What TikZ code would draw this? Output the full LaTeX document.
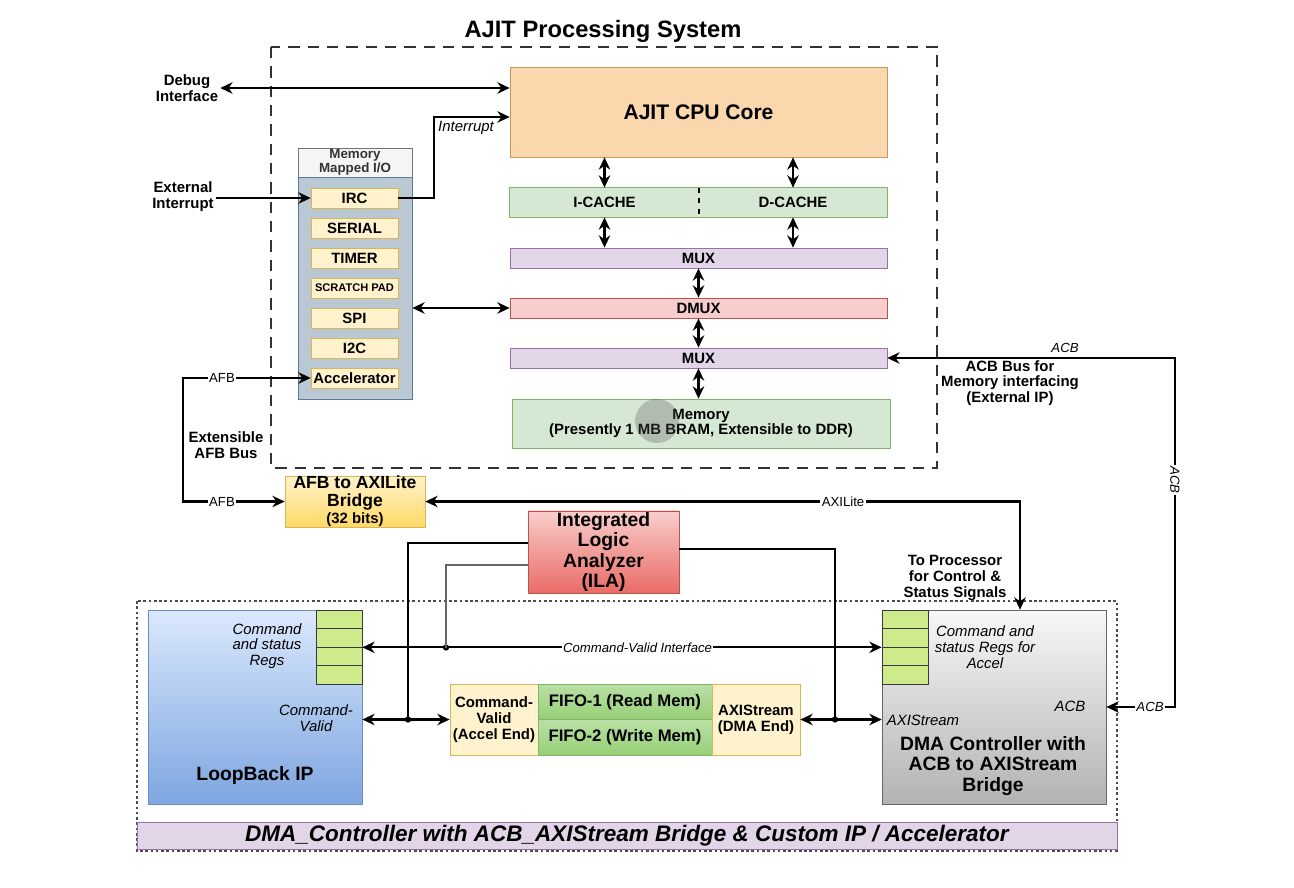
\documentclass[tikz,border=0pt]{standalone}
\usepackage{fontspec}
\setmainfont{Liberation Sans}
\usetikzlibrary{arrows.meta,positioning,shapes}
\definecolor{cpufill}{HTML}{FAD7AC}
\definecolor{cpuline}{HTML}{C8955A}
\definecolor{cachefill}{HTML}{D5E8D4}
\definecolor{cacheline}{HTML}{82B366}
\definecolor{muxfill}{HTML}{E1D5E7}
\definecolor{muxline}{HTML}{9673A6}
\definecolor{dmuxfill}{HTML}{F8CECC}
\definecolor{dmuxline}{HTML}{B85450}
\definecolor{iofill}{HTML}{FFF2CC}
\definecolor{ioline}{HTML}{D6B656}
\definecolor{mmiofill}{HTML}{BAC8D3}
\definecolor{mmioline}{HTML}{5B7A99}
\definecolor{regfill}{HTML}{CDEB8B}
\definecolor{regline}{HTML}{36393D}
\definecolor{fifotop}{HTML}{B9E0A5}
\definecolor{fifobot}{HTML}{97D077}
\definecolor{bridgebot}{HTML}{FFD966}
\definecolor{ilabot}{HTML}{EA6B66}
\definecolor{lbtop}{HTML}{DAE8FC}
\definecolor{lbbot}{HTML}{7EA6E0}
\definecolor{lbline}{HTML}{6C8EBF}
\newcommand{\fnttitle}{\fontsize{13.5}{15}\selectfont}
\newcommand{\fntcpu}{\fontsize{12}{14}\selectfont}
\newcommand{\fntbig}{\fontsize{11}{11.5}\selectfont}
\newcommand{\fntmid}{\fontsize{9.5}{10.5}\selectfont}
\newcommand{\fntsmall}{\fontsize{8.5}{9}\selectfont}
\newcommand{\fntbus}{\fontsize{7.5}{8}\selectfont}
\newcommand{\fnttiny}{\fontsize{6.3}{7}\selectfont}
\tikzset{block/.style={draw, rectangle, align=center, inner sep=1pt, font=\fntsmall\bfseries}}
\tikzset{cpu block/.style={block, fill=cpufill, draw=cpuline, minimum width=7.54cm, minimum height=1.8cm, font=\fntcpu\bfseries}}
\tikzset{cache half/.style={block, draw=none, fill=cachefill, minimum height=0.58cm}}
\tikzset{mux block/.style={block, fill=muxfill, draw=muxline, minimum width=7.54cm, minimum height=0.4cm}}
\tikzset{dmux block/.style={mux block, fill=dmuxfill, draw=dmuxline}}
\tikzset{mem block/.style={block, fill=cachefill, draw=cacheline, minimum width=7.56cm, minimum height=0.98cm}}
\tikzset{io item/.style={block, fill=iofill, draw=ioline, minimum width=1.74cm, minimum height=0.4cm}}
\tikzset{reg cell/.style={draw=regline, fill=regfill, minimum width=0.92cm, minimum height=0.37cm, inner sep=0pt}}
\tikzset{big block/.style={block, minimum width=4.48cm, minimum height=3.88cm}}
\tikzset{fifo block/.style={block, top color=fifotop, bottom color=fifobot, draw=cacheline, minimum width=3.48cm, minimum height=0.71cm, font=\fntmid\bfseries}}
\tikzset{end block/.style={block, fill=iofill, draw=ioline, minimum width=1.76cm, minimum height=1.42cm}}
\tikzset{note/.style={align=center, inner sep=1pt, font=\fntsmall\bfseries}}
\tikzset{tag/.style={align=center, inner sep=1pt, font=\fntsmall\itshape}}
\tikzset{bus label/.style={fill=white, inner sep=0.8pt, font=\fntbus}}
\tikzset{bus/.style={line width=1.3pt}}
\tikzset{arr/.style={bus, -{Stealth[length=7pt, width=6.5pt]}}}
\tikzset{dbl/.style={bus, {Stealth[length=7pt, width=6.5pt]}-{Stealth[length=7pt, width=6.5pt]}}}
\tikzset{probe/.style={line width=0.6pt}}
\tikzset{tap/.style={circle, fill, inner sep=0pt, minimum size=3.6pt}}
\tikzset{sys frame/.style={draw=black!80, line width=0.7pt, dash pattern=on 6.5pt off 4.5pt}}
\tikzset{dma frame/.style={draw=black!70, line width=0.6pt, dash pattern=on 1.5pt off 1.5pt}}

\begin{document}
\begin{tikzpicture}[x=0.02cm, y=-0.02cm]
  \useasboundingbox [fill=white] (0,0) rectangle (1294,888);

  % processing system
  \draw [sys frame] (271,47) rectangle (937,468);
  \node [note, font=\fnttitle\bfseries] (title) at (603,31) {AJIT Processing System};

  \node [cpu block]               (cpu)    at (698.5,112)   {AJIT CPU Core};
  \node [cache half, minimum width=3.78cm] (icache) at (604.5,202.5) {I-CACHE};
  \node [cache half, minimum width=3.76cm] (dcache) at (793,202.5)   {D-CACHE};
  \draw [cacheline] (icache.north west) rectangle (dcache.south east);
  \draw [black, line width=1pt, dashed] (icache.north east) -- (icache.south east);
  \node [mux block]               (mux1)   at (698.5,258)   {MUX};
  \node [dmux block]              (dmux)   at (698.5,308)   {DMUX};
  \node [mux block]               (mux2)   at (698.5,358)   {MUX};
  \node [mem block]               (memory) at (701,423.5)   {Memory\\(Presently 1 MB BRAM, Extensible to DDR)};
  \fill [gray!70!black, opacity=0.3] (657,421) circle (0.44cm);

  \node [block, fill=black!4, draw=black!55, minimum width=2.28cm, minimum height=0.58cm,
         inner sep=0pt, text=black!80, font=\fontsize{7.6}{7.8}\selectfont\bfseries] (mmiohead) at (355,162.5) {Memory\\Mapped I/O};
  \node [block, fill=mmiofill, draw=mmioline, minimum width=2.28cm, minimum height=4.44cm] (mmio) at (355,288) {};
  \foreach \nm/\txt/\yy in {irc/IRC/198, serial/SERIAL/228, timer/TIMER/258,
      scratch/{\fnttiny SCRATCH PAD}/288, spi/SPI/318, iic/I2C/348, accel/Accelerator/378}
    \node [io item] (\nm) at (354.5,\yy) {\txt};

  \draw [dbl] (cpu.south -| icache) -- (icache.north);
  \draw [dbl] (cpu.south -| dcache) -- (dcache.north);
  \draw [dbl] (icache.south) -- (mux1.north -| icache);
  \draw [dbl] (dcache.south) -- (mux1.north -| dcache);
  \draw [dbl] (mux1.south) -- (dmux.north);
  \draw [dbl] (dmux.south) -- (mux2.north);
  \draw [dbl] (mux2.south) -- (memory.north -| mux2);
  \draw [dbl] (dmux.west -| mmio.east) -- (dmux.west);

  % external side
  \node [note] (debug)  at (187,88)  {Debug\\Interface};
  \node [note] (extint) at (183,197) {External\\Interrupt};
  \node [tag]  (intlbl) at (466,128) {Interrupt};
  \node [note] (afbbus) at (226,445) {Extensible\\AFB Bus};
  \node [note] (acbbus) at (1010,383) {ACB Bus for\\Memory interfacing\\(External IP)};
  \node [note] (tocpu)  at (955,578) {To Processor\\for Control \&\\Status Signals};

  \draw [dbl] (debug.east) -- (debug -| cpu.west);
  \draw [arr] (irc.west -| extint.east) -- (irc.west);
  \draw [arr] (irc.east) -- ++(36,0) |- ([yshift=-0.1cm]cpu.west);

  \node [block, top color=iofill, bottom color=bridgebot, draw=ioline,
         minimum width=2.8cm, minimum height=0.98cm, inner sep=0pt,
         font=\fontsize{10}{10}\selectfont\bfseries] (bridge) at (355,501.5)
         {AFB to AXILite\\Bridge\\{\fontsize{8.5}{9}\selectfont (32 bits)}};
  \draw [dbl] (accel.west) -- ++(-128,0) |- (bridge.west);
  \node [bus label] (afb1) at (222,378)   {AFB};
  \node [bus label] (afb2) at (222,501.5) {AFB};

  \node [block, top color=dmuxfill, bottom color=ilabot, draw=dmuxline,
         minimum width=3.02cm, minimum height=1.6cm, font=\fntbig\bfseries] (ila) at (603.5,552)
         {Integrated\\Logic\\Analyzer\\(ILA)};

  % accelerator subsystem
  \draw [dma frame] (137,601) rectangle (1117,851);
  \node [block, fill=muxfill, draw=muxline, minimum width=19.6cm, minimum height=0.54cm,
         font=\fontsize{12.8}{14}\selectfont\bfseries\itshape] (banner) at (627,835.5)
         {DMA\_Controller with ACB\_AXIStream Bridge \& Custom IP / Accelerator};

  \node [big block, minimum width=4.28cm, top color=lbtop, bottom color=lbbot, draw=lbline] (loopback) at (255,707) {};
  \node [big block, top color=black!3, bottom color=black!30, draw=black!60] (dma) at (994,707) {};
  \foreach \i/\yy in {1/619.25, 2/637.75, 3/656.25, 4/674.75} {
    \node [reg cell] (lbr\i) at (339,\yy) {};
    \node [reg cell] (dmr\i) at (905,\yy) {};
  }

  \node [tag] (lbregs) at (267,646) {Command\\and status\\Regs};
  \node [tag] (lbcv)   at (316,718) {Command-\\Valid};
  \node [note, font=\fntbig\bfseries] (lbname) at (255,775) {LoopBack IP};
  \node [tag] (dmaregs) at (985,647) {Command and\\status Regs for\\Accel};
  \node [tag] (dmaacb)  at (1070,706) {ACB};
  \node [tag] (dmaaxis) at (923,720) {AXIStream};
  \node [note, font=\fntbig\bfseries] (dmaname) at (993,766) {DMA Controller with\\ACB to AXIStream\\Bridge};

  \node [end block] (cv)    at (494,719.5) {Command-\\Valid\\(Accel End)};
  \node [fifo block] (fifo1) at (625,701.75) {FIFO-1 (Read Mem)};
  \node [fifo block] (fifo2) at (625,737.25) {FIFO-2 (Write Mem)};
  \node [end block] (axis)  at (756,719.5) {AXIStream\\(DMA End)};

  \draw [dbl] (lbr2.south east) -- node [bus label, pos=0.53, font=\fntbus\itshape] {Command-Valid Interface} (dmr2.south west);
  \draw [dbl] (cv.west -| loopback.east) -- (cv.west);
  \draw [dbl] (axis.east) -- (axis.east -| dma.west);

  \draw [dbl] (bridge.east) -| ([xshift=0.52cm]dma.north);
  \node [bus label] (axil) at (843,502) {AXILite};
  \draw [dbl] (mux2.east) -- ++(288,0) |- (dma.east);
  \node [font=\fntbus\itshape] (acb1) at (1065,348) {ACB};
  \node [bus label, font=\fntbus\itshape, rotate=-90] (acb2) at (1175,480) {ACB};
  \node [bus label, font=\fntbus\itshape] (acb3) at (1150,707) {ACB};

  % ILA probes
  \node [tap] (cvtap)   at (408,719.5) {};
  \node [tap] (cvitap)  at (446,647.5) {};
  \node [tap] (axistap) at (835,719.5) {};
  \draw [probe] ([yshift=0.18cm]ila.west) -| (cvtap.center);
  \draw [probe, black!60, line width=0.9pt] ([yshift=-0.26cm]ila.west) -| (cvitap.center);
  \draw [probe] ([yshift=0.06cm]ila.east) -| (axistap.center);
\end{tikzpicture}
\end{document}
